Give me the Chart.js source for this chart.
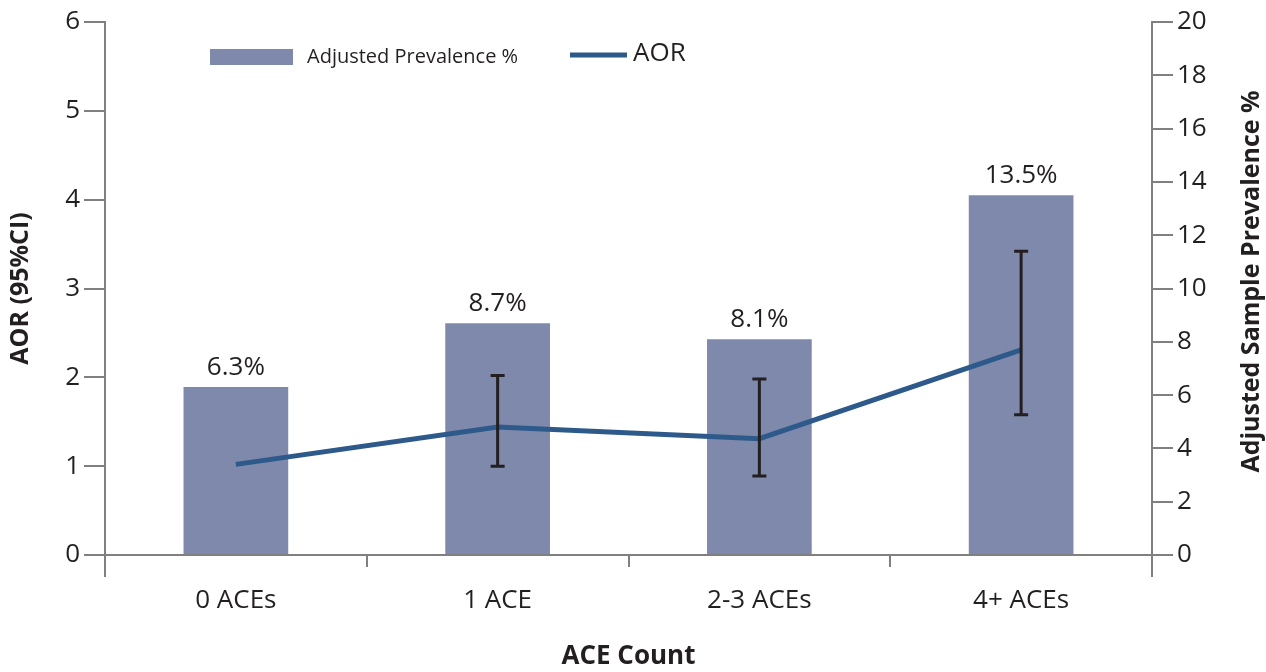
<!DOCTYPE html>
<html>
<head>
<meta charset="utf-8">
<script src="https://cdn.jsdelivr.net/npm/chart.js@4.4.1/dist/chart.umd.min.js"></script>
<style>
  html, body { margin: 0; padding: 0; background: #fff; }
  #wrap { width: 1266px; height: 672px; position: relative; }
</style>
</head>
<body>
<div id="wrap"><canvas id="aceChart"></canvas></div>
<script>
const categories = ['0 ACEs', '1 ACE', '2-3 ACEs', '4+ ACEs'];
const prevalence = [6.3, 8.7, 8.1, 13.5];
const prevalenceLabels = ['6.3%', '8.7%', '8.1%', '13.5%'];
const aor = [1.02, 1.44, 1.31, 2.31];
const aorLow = [null, 1.0, 0.89, 1.58];
const aorHigh = [null, 2.02, 1.98, 3.42];

const textColor = '#231f20';
const axisColor = '#808080';
const barColor = '#7e89ab';
const lineColor = '#2d5a8b';
const fontFamily = "'Open Sans', 'Noto Sans', sans-serif";

// legend, value labels, error bars, right title
const extras = {
    id: 'extras',
    afterDatasetsDraw(chart) {
        const ctx = chart.ctx;
        const x = chart.scales.x;
        const y = chart.scales.y;

        // error bars
        ctx.save();
        ctx.strokeStyle = textColor;
        ctx.lineWidth = 3;
        for (let i = 0; i < categories.length; i++) {
            if (aorLow[i] === null) continue;
            const cx = x.getPixelForValue(i);
            const top = y.getPixelForValue(aorHigh[i]);
            const bot = y.getPixelForValue(aorLow[i]);
            ctx.beginPath();
            ctx.moveTo(cx, top); ctx.lineTo(cx, bot);
            ctx.moveTo(cx - 7, top); ctx.lineTo(cx + 7, top);
            ctx.moveTo(cx - 7, bot); ctx.lineTo(cx + 7, bot);
            ctx.stroke();
        }
        ctx.restore();
    },
    afterDraw(chart) {
        const ctx = chart.ctx;
        const area = chart.chartArea;
        const bars = chart.getDatasetMeta(0).data;

        ctx.save();
        // value labels over bars
        ctx.fillStyle = textColor;
        ctx.font = '26px ' + fontFamily;
        ctx.textAlign = 'center';
        ctx.textBaseline = 'bottom';
        bars.forEach((b, i) => {
            ctx.fillText(prevalenceLabels[i], b.x, b.y - 7);
        });

        // legend
        ctx.fillStyle = barColor;
        ctx.fillRect(210, 49, 83, 16);
        ctx.fillStyle = textColor;
        ctx.textAlign = 'left';
        ctx.textBaseline = 'middle';
        ctx.font = '20px ' + fontFamily;
        ctx.fillText('Adjusted Prevalence %', 307, 57);
        ctx.strokeStyle = lineColor;
        ctx.lineWidth = 5;
        ctx.beginPath();
        ctx.moveTo(570, 55); ctx.lineTo(627, 55);
        ctx.stroke();
        ctx.font = '26px ' + fontFamily;
        ctx.fillText('AOR', 633, 54);

        // y axes run a bit below the x axis
        ctx.strokeStyle = axisColor;
        ctx.lineWidth = 2;
        ctx.beginPath();
        ctx.moveTo(area.left, area.bottom); ctx.lineTo(area.left, area.bottom + 22);
        ctx.moveTo(area.right, area.bottom); ctx.lineTo(area.right, area.bottom + 22);
        ctx.stroke();

        // right axis title, reading upward
        ctx.translate(chart.width - 14, (area.top + area.bottom) / 2 - 7);
        ctx.rotate(-Math.PI / 2);
        ctx.textAlign = 'center';
        ctx.textBaseline = 'middle';
        ctx.font = 'bold 25px ' + fontFamily;
        ctx.fillStyle = textColor;
        ctx.fillText('Adjusted Sample Prevalence %', 0, 0);
        ctx.restore();
    }
};

const ctx = document.getElementById('aceChart');
new Chart(ctx, {
    type: 'bar',
    data: {
        labels: categories,
        datasets: [{
            type: 'bar',
            label: 'Adjusted Prevalence %',
            data: prevalence,
            yAxisID: 'y1',
            backgroundColor: barColor,
            barPercentage: 0.4,
            categoryPercentage: 1,
            order: 2
        }, {
            type: 'line',
            label: 'AOR',
            data: aor,
            yAxisID: 'y',
            borderColor: lineColor,
            borderWidth: 5,
            pointRadius: 0,
            tension: 0,
            order: 1
        }]
    },
    options: {
        responsive: true,
        maintainAspectRatio: false,
        animation: false,
        layout: { padding: { top: 22, left: 0, right: 0, bottom: 0 } },
        plugins: {
            legend: { display: false },
            tooltip: { enabled: false }
        },
        scales: {
            x: {
                offset: true,
                grid: {
                    offset: true,
                    drawOnChartArea: false,
                    drawTicks: true,
                    tickLength: 12,
                    color: axisColor,
                    lineWidth: 2
                },
                border: { display: true, color: axisColor, width: 2 },
                ticks: { color: textColor, font: { family: fontFamily, size: 26 }, padding: 18 },
                title: {
                    display: true,
                    text: 'ACE Count',
                    color: textColor,
                    font: { family: fontFamily, size: 26, weight: 'bold' },
                    padding: { top: 0, bottom: 0 }
                },
                afterFit(scale) { scale.height = 117; }
            },
            y: {
                position: 'left',
                min: 0,
                max: 6,
                ticks: { stepSize: 1, color: textColor, font: { family: fontFamily, size: 26 }, padding: 4 },
                grid: { drawOnChartArea: false, tickLength: 21, color: axisColor, lineWidth: 2 },
                border: { display: true, color: axisColor, width: 2 },
                title: {
                    display: true,
                    text: 'AOR (95%CI)',
                    color: textColor,
                    font: { family: fontFamily, size: 25, weight: 'bold' },
                    padding: { top: 6, bottom: 0 }
                },
                afterFit(scale) { scale.width = 105; }
            },
            y1: {
                position: 'right',
                min: 0,
                max: 20,
                ticks: { stepSize: 2, color: textColor, font: { family: fontFamily, size: 26 }, padding: 4 },
                grid: { drawOnChartArea: false, tickLength: 21, color: axisColor, lineWidth: 2 },
                border: { display: true, color: axisColor, width: 2 },
                afterFit(scale) { scale.width = 114; }
            }
        }
    },
    plugins: [extras]
});
</script>
</body>
</html>
